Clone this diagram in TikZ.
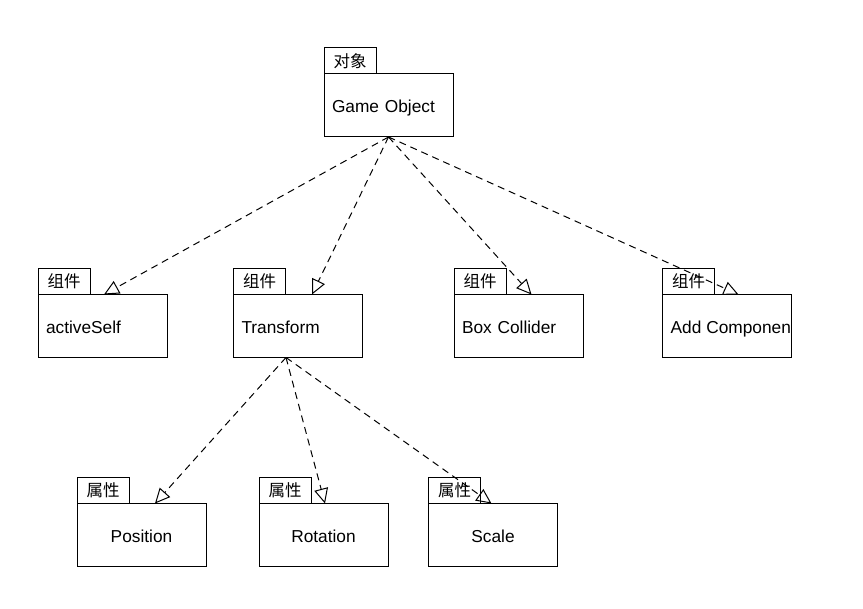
\documentclass[tikz,border=0pt]{standalone}
\usepackage{fontspec}
\setmainfont{Liberation Sans}
\newfontfamily\cjk{Noto Sans CJK SC}
\usetikzlibrary{positioning}
\usetikzlibrary{arrows.meta}

\begin{document}
\begin{tikzpicture}[x=1pt, y=-1pt,
  pkg/.style={draw=black, line width=1pt, outer sep=0pt, minimum height=63pt, inner xsep=8pt, inner ysep=0pt, text width=113pt, text height=16pt, text depth=1.5pt, font=\fontsize{17.3}{20}\selectfont},
  pkgleft/.style={pkg, align=left},
  pkgmid/.style={pkg, align=center},
  pkgtab/.style={draw=black, line width=1pt, outer sep=0pt, minimum width=52pt, minimum height=26pt, inner sep=0pt, font=\cjk\fontsize{16.5}{16.5}\selectfont},
  depline/.style={line width=1pt, dash pattern=on 7pt off 5pt, -{Triangle[open, length=15pt, width=14pt]}}]
\useasboundingbox (0,0) rectangle (863,609);
% Game Object
\node[pkgleft] (go) at (388.5,105.5) {Game Object};
\node[pkgtab, above right=0pt and 0pt of go.north west] (go-tab) {对象};
% Components
\node[pkgleft] (act) at (102.5,326) {activeSelf};
\node[pkgtab, above right=0pt and 0pt of act.north west] (act-tab) {组件};
\node[pkgleft] (tr) at (298,326) {Transform};
\node[pkgtab, above right=0pt and 0pt of tr.north west] (tr-tab) {组件};
\node[pkgleft] (bc) at (518.5,326) {Box Collider};
\node[pkgtab, above right=0pt and 0pt of bc.north west] (bc-tab) {组件};
\node[pkgleft] (ac) at (727,326) {};
\node[pkgtab, above right=0pt and 0pt of ac.north west] (ac-tab) {组件};
\begin{scope}
\clip (ac.north west) rectangle (ac.south east);
\node[anchor=west, inner sep=0pt, text height=16pt, text depth=1.5pt, font=\fontsize{17.3}{20}\selectfont] (ac-text) at ([xshift=8pt]ac.west) {Add Component};
\end{scope}
% Properties
\node[pkgmid] (pos) at (141.5,535) {Position};
\node[pkgtab, above right=0pt and 0pt of pos.north west] (pos-tab) {属性};
\node[pkgmid] (rot) at (323.5,535) {Rotation};
\node[pkgtab, above right=0pt and 0pt of rot.north west] (rot-tab) {属性};
\node[pkgmid] (sc) at (493,535) {Scale};
\node[pkgtab, above right=0pt and 0pt of sc.north west] (sc-tab) {属性};
% Dependencies
\draw[depline] (go.south) -- ([xshift=1.5pt]act.north);
\draw[depline] (go.south) -- ([xshift=14pt]tr.north);
\draw[depline] (go.south) -- ([xshift=13pt]bc.north);
\draw[depline] (go.south) -- ([xshift=11.5pt]ac.north);
\draw[depline] ([xshift=-12pt]tr.south) -- ([xshift=13.5pt]pos.north);
\draw[depline] ([xshift=-12pt]tr.south) -- ([xshift=1.5pt]rot.north);
\draw[depline] ([xshift=-12pt]tr.south) -- ([xshift=-1.5pt]sc.north);
\end{tikzpicture}
\end{document}
